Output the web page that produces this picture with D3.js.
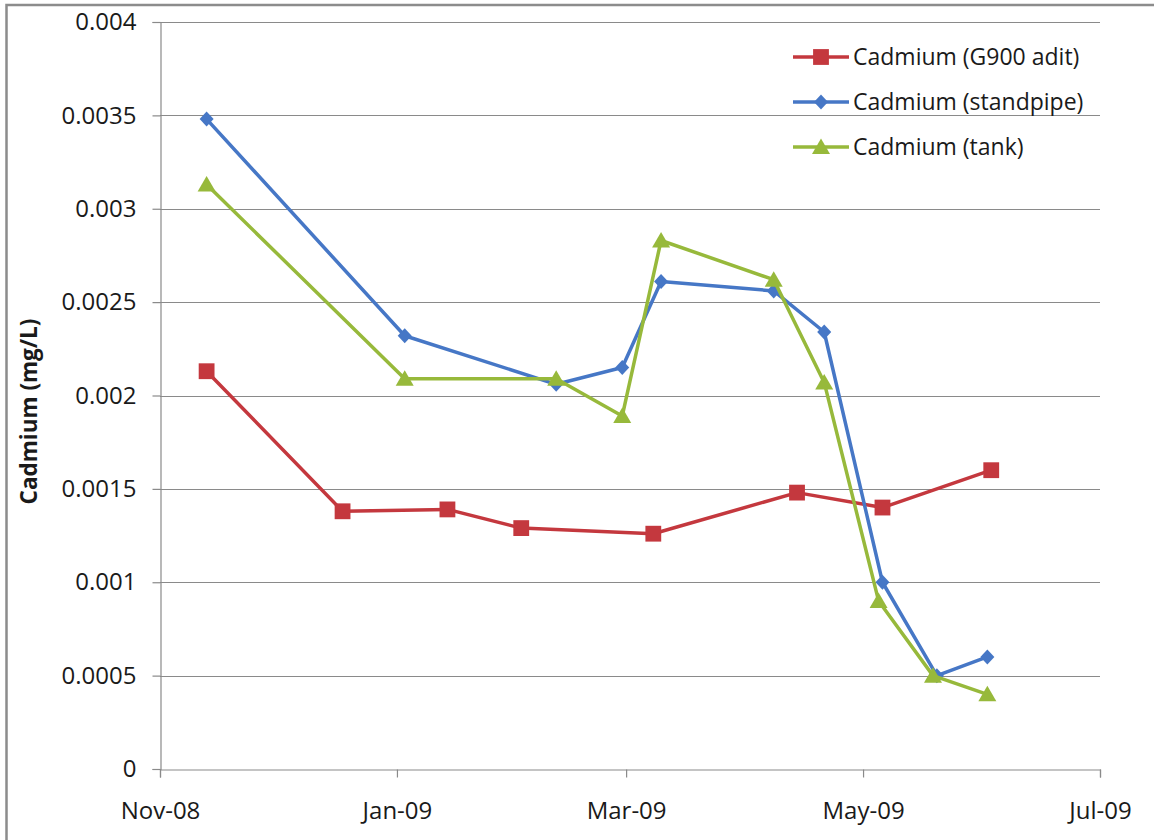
<!DOCTYPE html>
<html>
<head>
<meta charset="utf-8">
<script src="https://cdn.jsdelivr.net/npm/d3@7"></script>
<style>
  html, body { margin: 0; padding: 0; background: #fff; }
  svg { display: block; }
  text { font-family: "Open Sans", "Liberation Sans", sans-serif; fill: #1a1a1a; }
</style>
</head>
<body>
<svg id="chart" width="1154" height="840"></svg>
<script>
// ---- data ----
const seriesNames = ["Cadmium (G900 adit)", "Cadmium (standpipe)", "Cadmium (tank)"];

const adit_dates  = ["2008-11-13","2008-12-18","2009-01-14","2009-02-02","2009-03-08","2009-04-14","2009-05-06","2009-06-03"];
const adit_values = [0.00213, 0.00138, 0.00139, 0.00129, 0.00126, 0.00148, 0.00140, 0.00160];

const standpipe_dates  = ["2008-11-13","2009-01-03","2009-02-11","2009-02-28","2009-03-10","2009-04-08","2009-04-21","2009-05-06","2009-05-20","2009-06-02"];
const standpipe_values = [0.00348, 0.00232, 0.00206, 0.00215, 0.00261, 0.00256, 0.00234, 0.00100, 0.00050, 0.00060];

const tank_dates  = ["2008-11-13","2009-01-03","2009-02-11","2009-02-28","2009-03-10","2009-04-08","2009-04-21","2009-05-05","2009-05-19","2009-06-02"];
const tank_values = [0.00313, 0.00209, 0.00209, 0.00189, 0.00283, 0.00262, 0.00207, 0.00090, 0.00050, 0.00040];

const xTickDates = ["2008-11-01","2009-01-01","2009-03-01","2009-05-01","2009-07-01"];
const yTicks = [0, 0.0005, 0.001, 0.0015, 0.002, 0.0025, 0.003, 0.0035, 0.004];
const yTickLabels = ["0","0.0005","0.001","0.0015","0.002","0.0025","0.003","0.0035","0.004"];
const yTitle = "Cadmium (mg/L)";

// ---- setup ----
const parse = d3.utcParse("%Y-%m-%d");
const fmt = d3.utcFormat("%b-%y");
const svg = d3.select("#chart");
const L = 160, R = 1100, T = 22, B = 769;

const x = d3.scaleUtc().domain([parse(xTickDates[0]), parse(xTickDates[xTickDates.length-1])]).range([L, R]);
const y = d3.scaleLinear().domain([0, 0.004]).range([B, T]);

// outer frame
svg.append("rect").attr("x", 6.5).attr("y", 5).attr("width", 1160).attr("height", 860)
  .attr("fill", "none").attr("stroke", "#8c8c8c").attr("stroke-width", 2.5);

// gridlines
svg.append("g").selectAll("line").data(yTicks.filter(v => v > 0)).join("line")
  .attr("x1", L).attr("x2", R)
  .attr("y1", d => Math.round(y(d)) + 0.5).attr("y2", d => Math.round(y(d)) + 0.5)
  .attr("stroke", "#8a8a8a").attr("stroke-width", 1.2);

// y axis
const yAxis = d3.axisLeft(y).tickValues(yTicks).tickSize(8).tickPadding(16)
  .tickFormat((d, i) => yTickLabels[i]);
const gy = svg.append("g").attr("transform", `translate(${L + 0.5},0)`).call(yAxis);
gy.select(".domain").attr("stroke", "#8a8a8a").attr("stroke-width", 1.2);
gy.selectAll(".tick line").attr("stroke", "#8a8a8a").attr("stroke-width", 1.2);
gy.selectAll(".tick text").style("font-size", "24px").style("font-family", "'Open Sans', sans-serif").attr("fill", "#1a1a1a");

// x axis
const xAxis = d3.axisBottom(x).tickValues(xTickDates.map(parse)).tickSize(8).tickPadding(24)
  .tickFormat(fmt);
const gx = svg.append("g").attr("transform", `translate(0,${B + 0.5})`).call(xAxis);
gx.select(".domain").attr("stroke", "#8a8a8a").attr("stroke-width", 1.2);
gx.selectAll(".tick line").attr("stroke", "#8a8a8a").attr("stroke-width", 1.2);
gx.selectAll(".tick text").style("font-size", "24px").style("font-family", "'Open Sans', sans-serif").attr("fill", "#1a1a1a");

// y title
svg.append("text")
  .attr("transform", `translate(37,${(T + B) / 2 + 16}) rotate(-90)`)
  .attr("text-anchor", "middle")
  .style("font-size", "22.5px").style("font-weight", "bold")
  .text(yTitle);

// ---- series ----
const series = [
  { name: seriesNames[0], dates: adit_dates, values: adit_values, color: "#C4383E", marker: "square" },
  { name: seriesNames[1], dates: standpipe_dates, values: standpipe_values, color: "#4677C6", marker: "diamond" },
  { name: seriesNames[2], dates: tank_dates, values: tank_values, color: "#97B93B", marker: "triangle" }
];

function markerPath(type) {
  if (type === "square") return d3.symbol().type(d3.symbolSquare).size(250)();
  if (type === "diamond") return "M0,-7.5L7,0L0,7.5L-7,0Z";
  return "M0,-8.5L9,7L-9,7Z";
}

const line = d3.line().x(d => x(d.date)).y(d => y(d.value));

series.forEach(s => {
  const pts = s.dates.map((d, i) => ({ date: parse(d), value: s.values[i] }));
  const g = svg.append("g");
  g.append("path").datum(pts).attr("d", line)
    .attr("fill", "none").attr("stroke", s.color).attr("stroke-width", 3.5)
    .attr("stroke-linejoin", "round");
  g.selectAll("path.m").data(pts).join("path").attr("class", "m")
    .attr("transform", d => `translate(${x(d.date)},${y(d.value)})`)
    .attr("d", markerPath(s.marker))
    .attr("fill", s.color);
});

// ---- legend ----
const leg = svg.append("g");
series.forEach((s, i) => {
  const cy = 57 + i * 45;
  leg.append("line").attr("x1", 793).attr("x2", 849).attr("y1", cy).attr("y2", cy)
    .attr("stroke", s.color).attr("stroke-width", 3.5);
  leg.append("path").attr("transform", `translate(821,${cy})`).attr("d", markerPath(s.marker)).attr("fill", s.color);
  leg.append("text").attr("x", 853).attr("y", cy).attr("dy", "0.35em")
    .style("font-size", "23px").text(s.name);
});
</script>
</body>
</html>
